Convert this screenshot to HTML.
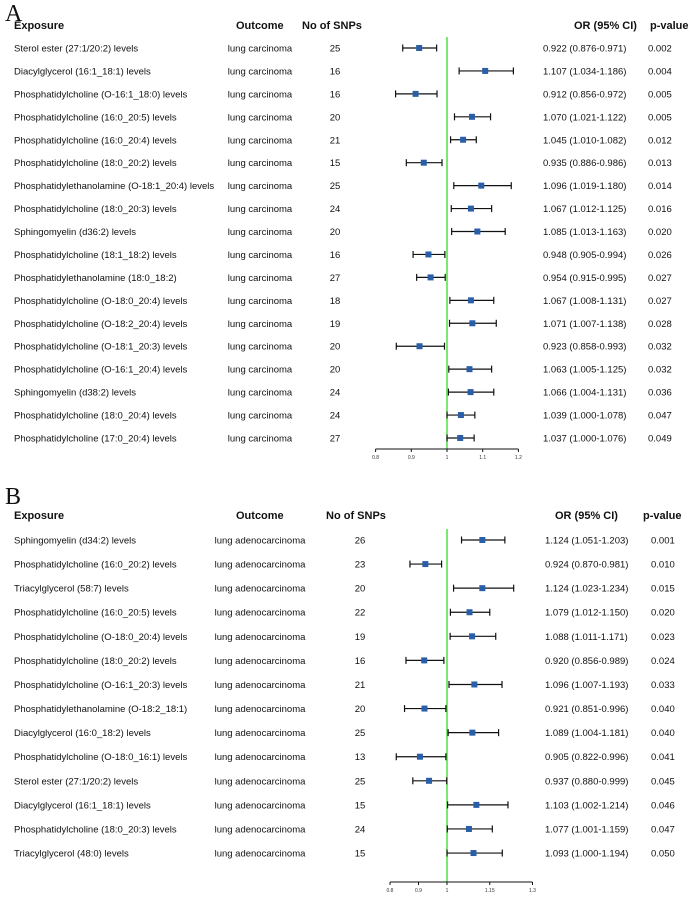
<!DOCTYPE html>
<html><head><meta charset="utf-8">
<style>
body{margin:0;background:#fff;}
svg{display:block;font-family:"Liberation Sans",Arial,sans-serif;}
.t{font-size:9.5px;fill:#111;}
.h{font-size:11px;font-weight:bold;fill:#111;}
.tk{font-size:5px;fill:#333;}
</style></head>
<body>
<svg id="chart" width="691" height="901" viewBox="0 0 691 901"></svg>
<script>
const aExposure=["Sterol ester (27:1/20:2) levels","Diacylglycerol (16:1_18:1) levels","Phosphatidylcholine (O-16:1_18:0) levels","Phosphatidylcholine (16:0_20:5) levels","Phosphatidylcholine (16:0_20:4) levels","Phosphatidylcholine (18:0_20:2) levels","Phosphatidylethanolamine (O-18:1_20:4) levels","Phosphatidylcholine (18:0_20:3) levels","Sphingomyelin (d36:2) levels","Phosphatidylcholine (18:1_18:2) levels","Phosphatidylethanolamine (18:0_18:2)","Phosphatidylcholine (O-18:0_20:4) levels","Phosphatidylcholine (O-18:2_20:4) levels","Phosphatidylcholine (O-18:1_20:3) levels","Phosphatidylcholine (O-16:1_20:4) levels","Sphingomyelin (d38:2) levels","Phosphatidylcholine (18:0_20:4) levels","Phosphatidylcholine (17:0_20:4) levels"];
const aSnps=[25,16,16,20,21,15,25,24,20,16,27,18,19,20,20,24,24,27];
const aOR=[0.922,1.107,0.912,1.070,1.045,0.935,1.096,1.067,1.085,0.948,0.954,1.067,1.071,0.923,1.063,1.066,1.039,1.037];
const aLo=[0.876,1.034,0.856,1.021,1.010,0.886,1.019,1.012,1.013,0.905,0.915,1.008,1.007,0.858,1.005,1.004,1.000,1.000];
const aHi=[0.971,1.186,0.972,1.122,1.082,0.986,1.180,1.125,1.163,0.994,0.995,1.131,1.138,0.993,1.125,1.131,1.078,1.076];
const aP=["0.002","0.004","0.005","0.005","0.012","0.013","0.014","0.016","0.020","0.026","0.027","0.027","0.028","0.032","0.032","0.036","0.047","0.049"];
const aTicks=[0.8,0.9,1,1.1,1.2];
const bExposure=["Sphingomyelin (d34:2) levels","Phosphatidylcholine (16:0_20:2) levels","Triacylglycerol (58:7) levels","Phosphatidylcholine (16:0_20:5) levels","Phosphatidylcholine (O-18:0_20:4) levels","Phosphatidylcholine (18:0_20:2) levels","Phosphatidylcholine (O-16:1_20:3) levels","Phosphatidylethanolamine (O-18:2_18:1)","Diacylglycerol (16:0_18:2) levels","Phosphatidylcholine (O-18:0_16:1) levels","Sterol ester (27:1/20:2) levels","Diacylglycerol (16:1_18:1) levels","Phosphatidylcholine (18:0_20:3) levels","Triacylglycerol (48:0) levels"];
const bSnps=[26,23,20,22,19,16,21,20,25,13,25,15,24,15];
const bOR=[1.124,0.924,1.124,1.079,1.088,0.920,1.096,0.921,1.089,0.905,0.937,1.103,1.077,1.093];
const bLo=[1.051,0.870,1.023,1.012,1.011,0.856,1.007,0.851,1.004,0.822,0.880,1.002,1.001,1.000];
const bHi=[1.203,0.981,1.234,1.150,1.171,0.989,1.193,0.996,1.181,0.996,0.999,1.214,1.159,1.194];
const bP=["0.001","0.010","0.015","0.020","0.023","0.024","0.033","0.040","0.040","0.041","0.045","0.046","0.047","0.050"];
const bTicks=[0.8,0.9,1,1.15,1.3];

const svg=document.getElementById('chart');
const NS='http://www.w3.org/2000/svg';
function mk(tag,attrs,txt){const e=document.createElementNS(NS,tag);for(const k in attrs)e.setAttribute(k,attrs[k]);if(txt!==undefined)e.textContent=txt;svg.appendChild(e);return e;}

function panel(cfg){
  const x=v=>447+(v-1)*cfg.ppu;
  const y=i=>cfg.y0+i*cfg.dy;
  let e;
  e=mk('text',{x:5,y:cfg.labelY,style:'font-family:"Liberation Serif",serif;font-size:24px;fill:#111'},cfg.label);
  
  const hdr=[["Exposure",14,'start'],["Outcome",cfg.outH,'start'],["No of SNPs",cfg.snpH,'start'],["OR (95% CI)",cfg.orH,'start'],["p-value",cfg.pH,'start']];
  hdr.forEach(h=>{e=mk('text',{x:h[1],y:cfg.hy,class:'h','text-anchor':h[2]},h[0]);
    });
  e=mk('line',{x1:447,x2:447,y1:cfg.y0-11,y2:cfg.axisY,stroke:'#33dd22','stroke-width':1.3});
  
  cfg.exp.forEach((name,i)=>{
    const yy=y(i);
    e=mk('text',{x:14,y:yy+3.5,class:'t'},name);
    
    e=mk('text',{x:cfg.outX,y:yy+3.5,class:'t','text-anchor':'middle'},cfg.outcome);
    
    e=mk('text',{x:cfg.snpX,y:yy+3.5,class:'t','text-anchor':'middle'},String(cfg.snps[i]));
    
    e=mk('text',{x:cfg.orX,y:yy+3.5,class:'t'},cfg.or[i].toFixed(3)+' ('+cfg.lo[i].toFixed(3)+'-'+cfg.hi[i].toFixed(3)+')');
    
    e=mk('text',{x:cfg.pX,y:yy+3.5,class:'t'},cfg.p[i]);
    
    e=mk('line',{x1:x(cfg.lo[i]),x2:x(cfg.hi[i]),y1:yy,y2:yy,stroke:'#111','stroke-width':1.2});
    
    [cfg.lo[i],cfg.hi[i]].forEach(v=>{e=mk('line',{x1:x(v),x2:x(v),y1:yy-3.5,y2:yy+3.5,stroke:'#111','stroke-width':1.2});
      });
    e=mk('rect',{x:x(cfg.or[i])-3,y:yy-3,width:6,height:6,fill:'#2a5fa8'});
    
  });
  const t=cfg.ticks;
  e=mk('line',{x1:x(t[0]),x2:x(t[t.length-1]),y1:cfg.axisY,y2:cfg.axisY,stroke:'#111','stroke-width':1});
  
  t.forEach(v=>{e=mk('line',{x1:x(v),x2:x(v),y1:cfg.axisY,y2:cfg.axisY+3,stroke:'#111'});
    
    e=mk('text',{x:x(v),y:cfg.axisY+10,class:'tk','text-anchor':'middle'},String(v));
    });
}
panel({label:'A',labelY:21,hy:29,y0:48,dy:22.94,axisY:449,ppu:357,exp:aExposure,snps:aSnps,or:aOR,lo:aLo,hi:aHi,p:aP,ticks:aTicks,
  outcome:'lung carcinoma',outH:236,snpH:302,orH:574,pH:650,outX:260,snpX:335,orX:543,pX:648});
panel({label:'B',labelY:504,hy:519,y0:540,dy:24.08,axisY:882,ppu:285,exp:bExposure,snps:bSnps,or:bOR,lo:bLo,hi:bHi,p:bP,ticks:bTicks,
  outcome:'lung adenocarcinoma',outH:236,snpH:326,orH:555,pH:643,outX:260,snpX:360,orX:545,pX:651});
</script>
</body></html>
